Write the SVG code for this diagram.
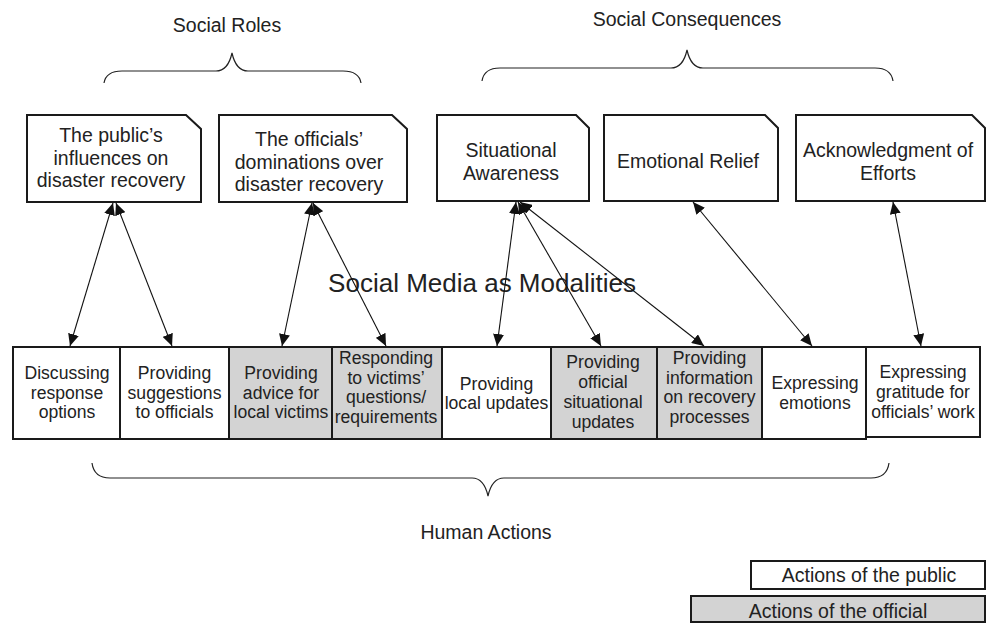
<svg xmlns="http://www.w3.org/2000/svg" width="987" height="623" viewBox="0 0 987 623">
<defs>
<marker id="ah" viewBox="0 0 12 11" refX="12" refY="5.5" markerWidth="12" markerHeight="11" markerUnits="userSpaceOnUse" orient="auto-start-reverse">
<path d="M0,0 L12,5.5 L0,11 z" fill="#111"/>
</marker>
<style>
text{font-family:"Liberation Sans",Arial,sans-serif;fill:#222;}
.lbl{font-size:19.5px;text-anchor:middle;}
.tb{font-size:19.5px;text-anchor:middle;}
.bb{font-size:17.6px;text-anchor:middle;}
.box{fill:#fff;stroke:#1a1a1a;stroke-width:2;}
.gray{fill:#d3d3d3;stroke:#1a1a1a;stroke-width:2;}
.brace{fill:none;stroke:#222;stroke-width:1.2;}
.conn{stroke:#111;stroke-width:1.1;fill:none;marker-start:url(#ah);marker-end:url(#ah);}
</style>
</defs>
<rect width="987" height="623" fill="#fff"/>

<g id="label-social-roles">
<text class="lbl" x="227" y="32">Social Roles</text>
<path class="brace" d="M104,83 Q106,71 122,71 L216,71 Q228,71 232,53 Q236,71 248,71 L343,71 Q359,71 361,83"/>
</g>
<g id="label-social-consequences">
<text class="lbl" x="687" y="26">Social Consequences</text>
<path class="brace" d="M482,81 Q484,68 500,68 L671,68 Q683,68 687,50 Q691,68 703,68 L875,68 Q891,68 893,81"/>
</g>

<g id="n-public-influences">
<path class="box" d="M27,115 L186,115 L201,129 L201,202 L27,202 Z"/>
<text class="tb" x="111" y="142">The public’s</text>
<text class="tb" x="111" y="164.5">influences on</text>
<text class="tb" x="111" y="187">disaster recovery</text>
</g>
<g id="n-officials-dominations">
<path class="box" d="M219,115 L392,115 L407,129 L407,202 L219,202 Z"/>
<text class="tb" x="309" y="146">The officials’</text>
<text class="tb" x="309" y="168.5">dominations over</text>
<text class="tb" x="309" y="191">disaster recovery</text>
</g>
<g id="n-situational-awareness">
<path class="box" d="M437,115 L576,115 L589,128 L589,201 L437,201 Z"/>
<text class="tb" x="511" y="157">Situational</text>
<text class="tb" x="511" y="180">Awareness</text>
</g>
<g id="n-emotional-relief">
<path class="box" d="M604,115 L765,115 L778,128 L778,201 L604,201 Z"/>
<text class="tb" x="688" y="168">Emotional Relief</text>
</g>
<g id="n-acknowledgment">
<path class="box" d="M796,115 L972,115 L985,128 L985,201 L796,201 Z"/>
<text class="tb" x="888" y="157">Acknowledgment of</text>
<text class="tb" x="888" y="180">Efforts</text>
</g>

<g id="label-social-media">
<text x="482" y="292" style="font-size:26px;text-anchor:middle;">Social Media as Modalities</text>
</g>

<g id="n-discussing">
<rect class="box" x="13" y="347" width="107" height="92"/>
<text class="bb" x="67" y="379">Discussing</text>
<text class="bb" x="67" y="398.5">response</text>
<text class="bb" x="67" y="418">options</text>
</g>
<g id="n-suggestions">
<rect class="box" x="120" y="347" width="109" height="92"/>
<text class="bb" x="174.5" y="379">Providing</text>
<text class="bb" x="174.5" y="398.5">suggestions</text>
<text class="bb" x="174.5" y="418">to officials</text>
</g>
<g id="n-advice">
<rect class="gray" x="229" y="347" width="103" height="92"/>
<text class="bb" x="281" y="379">Providing</text>
<text class="bb" x="281" y="398.5">advice for</text>
<text class="bb" x="281" y="418">local victims</text>
</g>
<g id="n-responding">
<rect class="gray" x="332" y="347" width="110" height="92"/>
<text class="bb" x="386" y="364">Responding</text>
<text class="bb" x="386" y="383.5">to victims’</text>
<text class="bb" x="386" y="403">questions/</text>
<text class="bb" x="386" y="422.5">requirements</text>
</g>
<g id="n-local-updates">
<rect class="box" x="442" y="347" width="109" height="92"/>
<text class="bb" x="496.5" y="389.5">Providing</text>
<text class="bb" x="496.5" y="409">local updates</text>
</g>
<g id="n-official-updates">
<rect class="gray" x="551" y="347" width="106" height="92"/>
<text class="bb" x="603" y="368">Providing</text>
<text class="bb" x="603" y="388">official</text>
<text class="bb" x="603" y="408">situational</text>
<text class="bb" x="603" y="427.5">updates</text>
</g>
<g id="n-recovery-info">
<rect class="gray" x="657" y="347" width="105" height="92"/>
<text class="bb" x="709.5" y="364">Providing</text>
<text class="bb" x="709.5" y="383.5">information</text>
<text class="bb" x="709.5" y="403">on recovery</text>
<text class="bb" x="709.5" y="422.5">processes</text>
</g>
<g id="n-emotions">
<rect class="box" x="762" y="347" width="104" height="92"/>
<text class="bb" x="815" y="389">Expressing</text>
<text class="bb" x="815" y="408.5">emotions</text>
</g>
<g id="n-gratitude">
<rect class="box" x="866" y="347" width="114" height="90"/>
<text class="bb" x="923" y="378">Expressing</text>
<text class="bb" x="923" y="398">gratitude for</text>
<text class="bb" x="923" y="418">officials’ work</text>
</g>

<g id="connectors">
<line class="conn" x1="113" y1="203" x2="70" y2="346"/>
<line class="conn" x1="116" y1="203" x2="172" y2="346"/>
<line class="conn" x1="312" y1="203" x2="282" y2="346"/>
<line class="conn" x1="313" y1="203" x2="386" y2="346"/>
<line class="conn" x1="516" y1="202" x2="497" y2="346"/>
<line class="conn" x1="518" y1="202" x2="601" y2="346"/>
<line class="conn" x1="520" y1="202" x2="704" y2="346"/>
<line class="conn" x1="693" y1="202" x2="812" y2="346"/>
<line class="conn" x1="893" y1="202" x2="921" y2="346"/>
</g>

<g id="label-human-actions">
<path class="brace" d="M92,463 Q94,478 110,478 L472,478 Q484,478 488,496 Q492,478 504,478 L871,478 Q887,478 889,463"/>
<text class="lbl" x="486" y="539">Human Actions</text>
</g>

<g id="legend">
<g id="legend-public">
<rect class="box" x="751" y="561" width="234" height="28"/>
<text class="lbl" x="869" y="582">Actions of the public</text>
</g>
<g id="legend-official">
<rect class="gray" x="691" y="596" width="294" height="26"/>
<text class="lbl" x="838" y="618">Actions of the official</text>
</g>
</g>
</svg>
